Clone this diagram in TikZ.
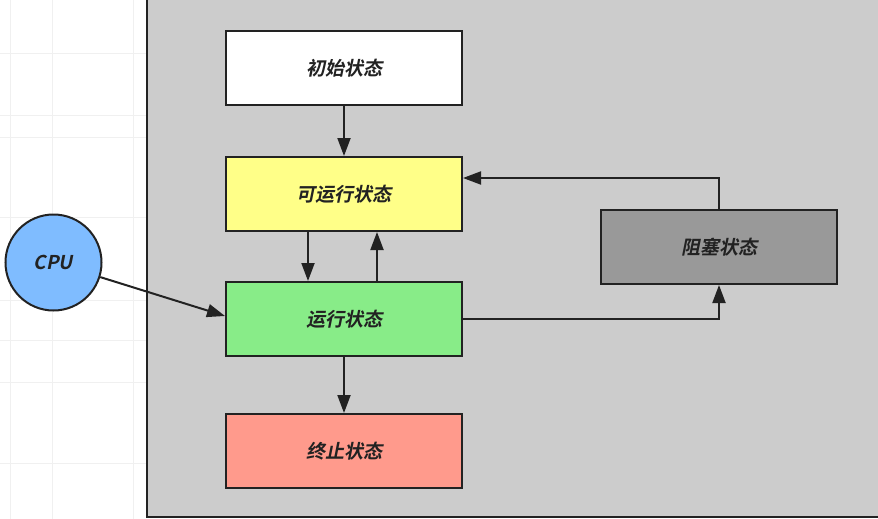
\documentclass[tikz,border=0pt]{standalone}
\usepackage{fontspec}
\newfontfamily\cjk[FakeSlant=0.2]{Noto Sans CJK SC Bold}
\usepackage{tikz}
\usetikzlibrary{arrows.meta,calc}

\definecolor{boxgray}{HTML}{CCCCCC}
\definecolor{yellowbox}{HTML}{FFFF88}
\definecolor{greenbox}{HTML}{88EC88}
\definecolor{redbox}{HTML}{FF9A8C}
\definecolor{blockgray}{HTML}{999999}
\definecolor{cpublue}{HTML}{7FBCFF}
\definecolor{ink}{HTML}{222222}

\tikzset{
  state/.style={draw=ink,line width=2pt,minimum width=236pt,minimum height=74pt,
    font=\cjk\fontsize{19}{21}\selectfont,text=ink,inner sep=0pt},
  arr/.style={draw=ink,line width=2pt,-{Triangle[length=18pt,width=13pt]}}
}

\begin{document}
\begin{tikzpicture}[x=1pt,y=-1pt]
\useasboundingbox (0,0) rectangle (878,519);
\clip (0,0) rectangle (878,519);

% Grid
\foreach \x in {10,52,133}
\draw[black!6] (\x,0) -- (\x,519);
\foreach \y in {53,115,137,217,300,340,382,463}
\draw[black!6] (0,\y) -- (147,\y);

% Container
\draw[draw=ink,line width=2pt,fill=boxgray] (147,-5) rectangle (885,517);

% States
\node[state,fill=white]     (init)     at (344,68)  {初始状态};
\node[state,fill=yellowbox] (runnable) at (344,194) {可运行状态};
\node[state,fill=greenbox]  (running)  at (344,319) {运行状态};
\node[state,fill=redbox]    (dead)     at (344,451) {终止状态};
\node[state,fill=blockgray] (blocked)  at (719,247) {阻塞状态};

% CPU
\node[circle,draw=ink,line width=2pt,fill=cpublue,minimum size=96pt,inner sep=0pt,
  font=\cjk\fontsize{19}{21}\selectfont,text=ink] (cpu) at (53.5,262.5) {CPU};

% Transitions
\draw[arr] (init) -- (runnable);
\draw[arr] ([xshift=-36pt]runnable.south) -- ([xshift=-36pt]running.north);
\draw[arr] ([xshift=33pt]running.north) -- ([xshift=33pt]runnable.south);
\draw[arr] (running) -- (dead);
\draw[arr] (running.east) -| (blocked.south);
\draw[arr] (blocked.north) |- ([yshift=16pt]runnable.east);
\draw[arr] (cpu) -- ([yshift=3pt]running.west);
\end{tikzpicture}
\end{document}
